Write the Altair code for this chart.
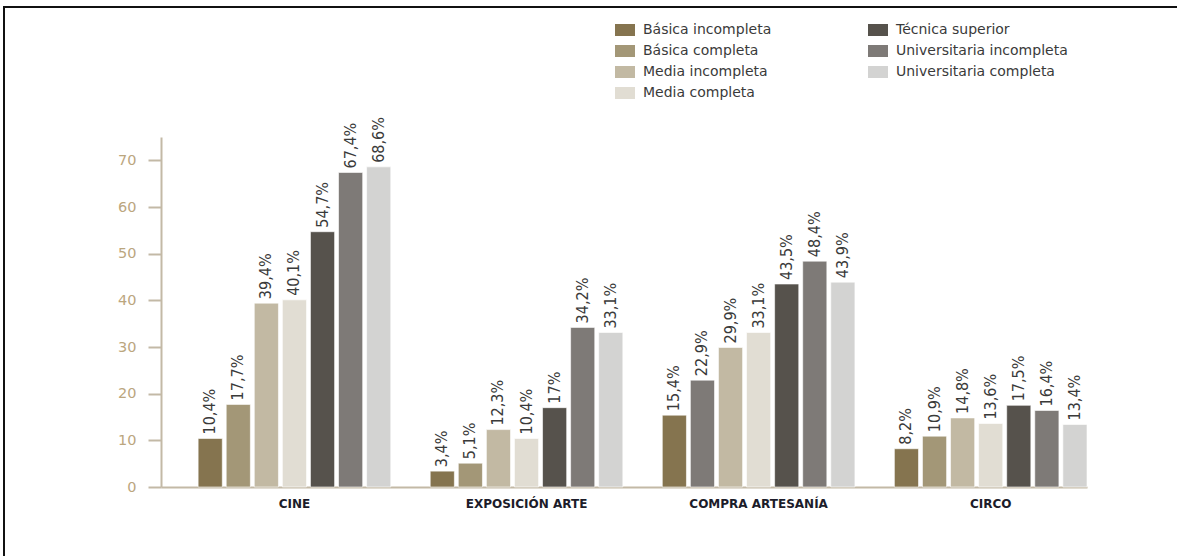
import altair as alt
import pandas as pd

# Categories (x groups) and education-level series
categories = ["CINE", "EXPOSICIÓN ARTE", "COMPRA ARTESANÍA", "CIRCO"]
series = [
    "Básica incompleta",
    "Básica completa",
    "Media incompleta",
    "Media completa",
    "Técnica superior",
    "Universitaria incompleta",
    "Universitaria completa",
]
colors = ["#85744f", "#a39777", "#c2b9a3", "#e1ddd3", "#56524c", "#7e7a77", "#d3d3d2"]

# Percentages per category, in series order
cine = [10.4, 17.7, 39.4, 40.1, 54.7, 67.4, 68.6]
exposicion = [3.4, 5.1, 12.3, 10.4, 17.0, 34.2, 33.1]
artesania = [15.4, 22.9, 29.9, 33.1, 43.5, 48.4, 43.9]
circo = [8.2, 10.9, 14.8, 13.6, 17.5, 16.4, 13.4]

y_ticks = [0, 10, 20, 30, 40, 50, 60, 70]

rows = []
for cat, vals in zip(categories, [cine, exposicion, artesania, circo]):
    for s, v in zip(series, vals):
        rows.append({
            "cat": cat,
            "serie": s,
            "valor": v,
            "etiqueta": f"{v:g}".replace(".", ",") + "%",
        })
df = pd.DataFrame(rows)

W, H = 926, 350
PAD_L, PAD_T = 161, 137

x_enc = alt.X(
    "cat:N",
    sort=categories,
    title=None,
    scale=alt.Scale(paddingInner=0.17, paddingOuter=0.08, align=1),
    axis=alt.Axis(
        ticks=False,
        labelAngle=0,
        labelFont="DejaVu Sans",
        labelFontWeight="bold",
        labelFontSize=12,
        labelColor="#1c1c2a",
        labelPadding=11,
        domainColor="#c3b9a6",
        domainWidth=2,
    ),
)
xoff_enc = alt.XOffset("serie:N", sort=series, scale=alt.Scale(paddingInner=0.14, paddingOuter=0))
y_enc = alt.Y(
    "valor:Q",
    title=None,
    scale=alt.Scale(domain=[0, 75], nice=False),
    axis=alt.Axis(
        values=y_ticks,
        grid=False,
        labelFont="DejaVu Sans",
        labelFontSize=14.5,
        labelColor="#bba67e",
        labelPadding=12,
        tickSize=13,
        tickColor="#c3b9a6",
        tickWidth=2,
        domainColor="#c3b9a6",
        domainWidth=2,
    ),
)

base = alt.Chart(df)

bars = base.mark_bar(stroke="white", strokeWidth=0.6).encode(
    x=x_enc,
    xOffset=xoff_enc,
    y=y_enc,
    color=alt.condition(
        "datum.cat == 'COMPRA ARTESANÍA' && datum.serie == 'Básica completa'",
        alt.value("#7e7a77"),
        alt.Color(
            "serie:N",
            sort=series,
            scale=alt.Scale(domain=series, range=colors),
            legend=alt.Legend(
                title=None,
                orient="none",
                legendX=454,
                legendY=-117,
                direction="vertical",
                columns=2,
                symbolType="M-1,-0.6H1V0.6H-1Z",
                symbolSize=400,
                symbolStrokeWidth=0,
                symbolOpacity=1,
                labelFont="DejaVu Sans",
                labelFontSize=14,
                labelColor="#3a3a3a",
                labelOffset=8,
                labelLimit=300,
                rowPadding=4,
                columnPadding=96,
            ),
        ),
    ),
)

labels = base.mark_text(
    angle=270,
    align="left",
    baseline="middle",
    dx=4,
    font="DejaVu Sans Condensed",
    fontSize=16,
    color="#3a3a3a",
).encode(
    x=alt.X("cat:N", sort=categories),
    xOffset=alt.XOffset("serie:N", sort=series),
    y="valor:Q",
    text="etiqueta:N",
)

# page frame along the top and left edges
frame = alt.Chart(pd.DataFrame({"k": [0]})).mark_rect(
    fill=None, stroke="#111111", strokeWidth=2
).encode(
    x=alt.value(4 - PAD_L),
    x2=alt.value(1177 - PAD_L + 20),
    y=alt.value(7 - PAD_T),
    y2=alt.value(556 - PAD_T + 20),
)

chart = (
    alt.layer(bars, labels, frame)
    .properties(
        width=W,
        height=H,
        autosize=alt.AutoSizeParams(type="none"),
        padding={"left": PAD_L, "top": PAD_T, "right": 1177 - PAD_L - W, "bottom": 556 - PAD_T - H},
        background="white",
    )
    .configure_view(stroke=None)
)

chart.save("out.html", embed_options={"renderer": "svg", "actions": False})
